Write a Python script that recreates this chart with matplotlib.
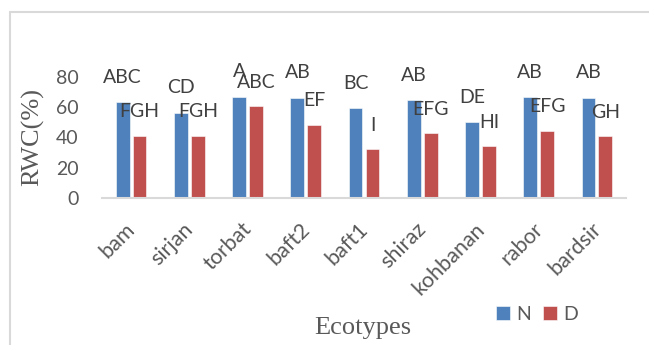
import matplotlib
matplotlib.use("Agg")
import matplotlib.pyplot as plt
from matplotlib.patches import Rectangle
from matplotlib.transforms import ScaledTranslation
import numpy as np

ecotypes = ["bam", "sirjan", "torbat", "baft2", "baft1", "shiraz", "kohbanan", "rabor", "bardsir"]
rwc_n = [63.4, 56.2, 66.9, 66.2, 59.2, 64.7, 50.0, 66.7, 66.2]
rwc_d = [41.1, 41.1, 60.5, 48.3, 32.1, 42.8, 34.1, 44.4, 40.7]
letters_n = ["ABC", "CD", "A", "AB", "BC", "AB", "DE", "AB", "AB"]
letters_d = ["FGH", "FGH", "ABC", "EF", "I", "EFG", "HI", "EFG", "GH"]
yticks = [0, 20, 40, 60, 80]

blue = "#4f81bd"
red = "#c0504d"
txt = "#404040"
grey = "#595959"
sans = "Lato"
serif = "Liberation Serif"

fig = plt.figure(figsize=(6.49, 3.45), dpi=100)
ax = fig.add_axes([102 / 649, 147 / 345, 524 / 649, 121 / 345])

x = np.arange(len(ecotypes))
w = 0.235
off = 0.145
ax.bar(x - off, rwc_n, w, color=blue, edgecolor="white", linewidth=0.4, label="N")
ax.bar(x + off, rwc_d, w, color=red, edgecolor="white", linewidth=0.4, label="D")

for i in range(len(ecotypes)):
    ax.annotate(letters_n[i], (x[i] - off, rwc_n[i]), xytext=(0, 25), textcoords="offset pixels",
                ha="center", va="center", fontsize=14, color=txt, family=sans, annotation_clip=False)
    ax.annotate(letters_d[i], (x[i] + off, rwc_d[i]), xytext=(0, 24), textcoords="offset pixels",
                ha="center", va="center", fontsize=14, color=txt, family=sans, annotation_clip=False)

ax.set_xlim(-0.5, len(ecotypes) - 0.5)
ax.set_ylim(0, 80)
ax.set_yticks(yticks)
ax.set_yticklabels([str(t) for t in yticks], fontsize=14, color=grey, family=sans)
ax.set_xticks(x)
ax.set_xticklabels(ecotypes, rotation=45, ha="right", rotation_mode="anchor",
                   fontsize=15.5, color=grey, family=sans)
ax.tick_params(axis="y", length=0, pad=17)
ax.tick_params(axis="x", length=0, pad=15)
# nudge the rotated labels a little to the left, like the original
shift = ScaledTranslation(-6 / 100, 0, fig.dpi_scale_trans)
for lab in ax.get_xticklabels():
    lab.set_transform(lab.get_transform() + shift)
for s in ["top", "right", "left"]:
    ax.spines[s].set_visible(False)
ax.spines["bottom"].set_color("#d9d9d9")
ax.spines["bottom"].set_linewidth(1.5)

fig.text(33 / 649, 1 - 137 / 345, "RWC(%)", rotation=90, ha="center", va="center",
         fontsize=19, color=grey, family=serif)
fig.text(363 / 649, 1 - 328 / 345, "Ecotypes", ha="center", va="center",
         fontsize=19, color=grey, family=serif)

leg = fig.legend(loc="center left", bbox_to_anchor=(486 / 649, 1 - 314 / 345), ncol=2,
                 frameon=False, prop={"family": sans, "size": 14}, handlelength=0.75,
                 handleheight=0.75, handletextpad=0.3, columnspacing=0.6, borderpad=0)
for t in leg.get_texts():
    t.set_color(grey)

# chart border (cut at the right and bottom)
fig.patches.append(Rectangle((10 / 649, -0.1), 1.2, 1 - 12 / 345 + 0.1, transform=fig.transFigure,
                             fill=False, edgecolor="#d9d9d9", linewidth=1.5))

fig.savefig("out.png", dpi=100)
